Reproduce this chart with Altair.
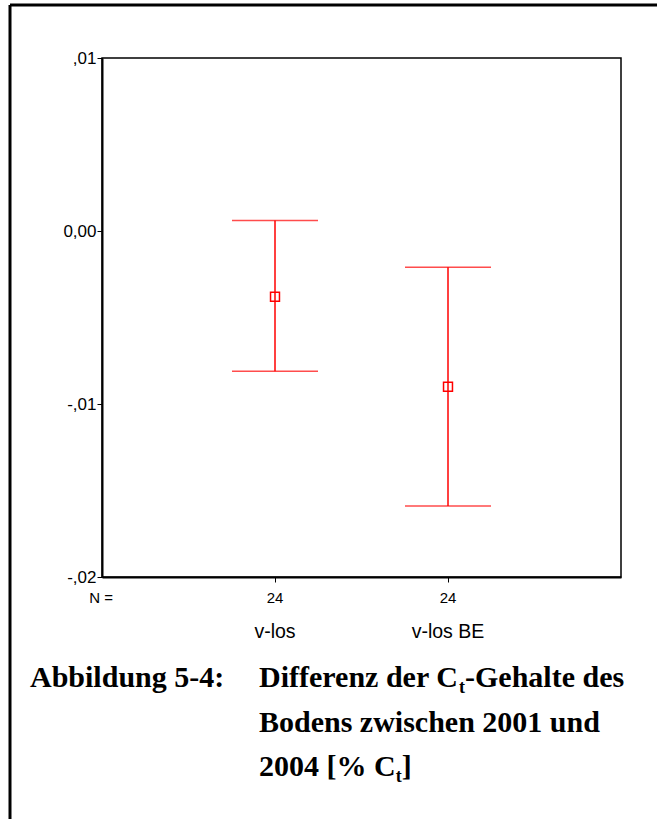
import altair as alt
import pandas as pd

# ---- data ----
groups = ["v-los", "v-los BE"]
n_values = [24, 24]
means = [-0.0038, -0.0090]
lower = [-0.0081, -0.0159]
upper = [0.0006, -0.0021]
y_ticks = [-0.02, -0.01, 0.0, 0.01]

df = pd.DataFrame({"group": groups, "n": n_values, "mean": means,
                   "lower": lower, "upper": upper})

RED = "#FF0000"
W, H = 519, 519
PAD_L, PAD_T = 102, 58

x_enc = alt.X("group:N", sort=groups,
              scale=alt.Scale(type="point", padding=1),
              axis=alt.Axis(labels=False, title=None, ticks=True))
y_scale = alt.Scale(domain=[-0.02, 0.01], nice=False, zero=False)
y_axis = alt.Axis(values=y_ticks, title=None, grid=False,
                  labelExpr="datum.value == 0 ? '0,00' : (datum.value < 0 ? '-' : '') + replace(format(abs(datum.value), '.2f'), '0.', ',')")

base = alt.Chart(df)

whisker = base.mark_rule(color=RED, strokeWidth=1.5).encode(
    x=x_enc,
    y=alt.Y("lower:Q", scale=y_scale, axis=y_axis),
    y2="upper:Q",
)
cap_hi = base.mark_tick(color=RED, size=86, thickness=1.5, orient="horizontal").encode(
    x=alt.X("group:N", sort=groups), y=alt.Y("upper:Q", axis=y_axis))
cap_lo = base.mark_tick(color=RED, size=86, thickness=1.5, orient="horizontal").encode(
    x=alt.X("group:N", sort=groups), y=alt.Y("lower:Q", axis=y_axis))
mean_pt = base.mark_point(shape="square", size=80, filled=False, color=RED,
                          strokeWidth=1.5, opacity=1).encode(
    x=alt.X("group:N", sort=groups), y=alt.Y("mean:Q", axis=y_axis))

n_text = base.mark_text(font="Liberation Sans", fontSize=15, color="black",
                        baseline="middle", align="center").encode(
    x=alt.X("group:N", sort=groups), y=alt.value(540), text="n:Q")
cat_text = base.mark_text(font="Liberation Sans", fontSize=19.5, color="black",
                          baseline="middle", align="center").encode(
    x=alt.X("group:N", sort=groups), y=alt.value(574), text="group:N")

one = alt.Data(values=[{}])

def label(txt, x, y, size=15, font="Liberation Sans", bold=False, baseline="middle", align="center"):
    return alt.Chart(one).mark_text(
        text=txt, font=font, fontSize=size, fontWeight="bold" if bold else "normal",
        color="black", baseline=baseline, align=align
    ).encode(x=alt.value(x), y=alt.value(y))

n_lbl = label("N =", -1, 540)

SERIF = "Liberation Serif"
FS = 30
SUB = 18
L1, L2, L3 = 629, 674, 718
cap = [
    label("Abbildung 5-4:", -72, L1, FS, SERIF, True, "alphabetic", "left"),
    label("Differenz der C", 157, L1, FS, SERIF, True, "alphabetic", "left"),
    label("t", 357, L1 + 6, SUB, SERIF, True, "alphabetic", "left"),
    label("-Gehalte des", 363, L1, FS, SERIF, True, "alphabetic", "left"),
    label("Bodens zwischen 2001 und", 157, L2, FS, SERIF, True, "alphabetic", "left"),
    label("2004 [% C", 157, L3, FS, SERIF, True, "alphabetic", "left"),
    label("t", 293.7, L3 + 6, SUB, SERIF, True, "alphabetic", "left"),
    label("]", 299.7, L3, FS, SERIF, True, "alphabetic", "left"),
]

border_left = alt.Chart(one).mark_rule(color="black", strokeWidth=3).encode(
    x=alt.value(10 - PAD_L), y=alt.value(5 - PAD_T), y2=alt.value(819 - PAD_T + 5))
border_top = alt.Chart(one).mark_rule(color="black", strokeWidth=3).encode(
    y=alt.value(5 - PAD_T), x=alt.value(10 - PAD_L), x2=alt.value(657 - PAD_L + 5))

chart = alt.layer(
    whisker, cap_hi, cap_lo, mean_pt, n_text, cat_text, n_lbl, *cap,
    border_left, border_top
).properties(
    width=W, height=H,
    autosize=alt.AutoSizeParams(type="none"),
    padding={"left": PAD_L, "top": PAD_T, "right": 657 - PAD_L - W, "bottom": 819 - PAD_T - H},
    background="white",
).configure_view(
    stroke="black", strokeWidth=1.5
).configure_axis(
    domainWidth=2, domainColor="black", tickColor="black", tickSize=5, tickWidth=1,
    labelFont="Liberation Sans", labelFontSize=17, labelColor="black", labelPadding=1,
    grid=False
)

chart.save("out.html", embed_options={"renderer": "svg", "actions": False})
